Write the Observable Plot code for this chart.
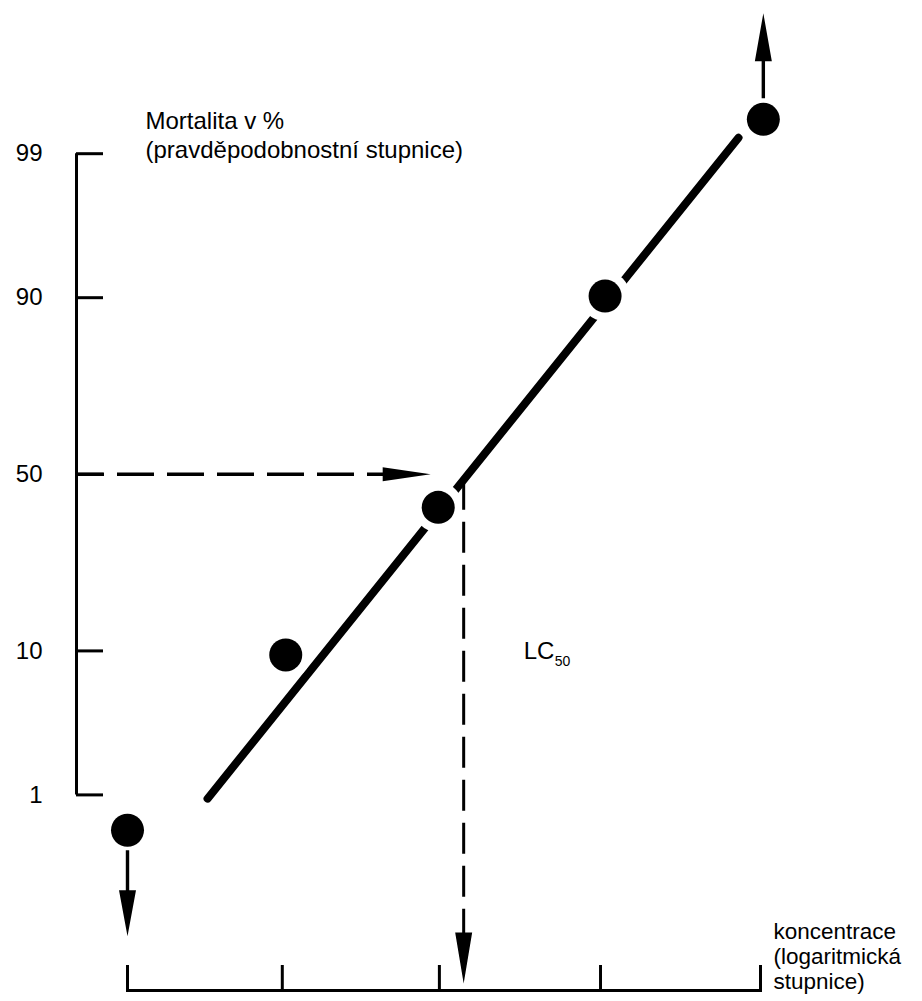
<!DOCTYPE html>
<html>
<head>
<meta charset="utf-8">
<script src="https://cdn.jsdelivr.net/npm/d3@7"></script>
<script src="https://cdn.jsdelivr.net/npm/@observablehq/plot@0.6"></script>
<style>
  html, body { margin: 0; padding: 0; background: #fff; }
  #chart svg { display: block; }
</style>
</head>
<body>
<div id="chart"></div>
<script>
// ---- data ----
const concTicks = [1, 1.97, 3.92, 7.94, 16];     // concentration ticks (log scale, unlabeled)
const yTickPct = [1, 10, 50, 90, 99];            // mortality ticks (probability scale)
const yTickLabels = ["1", "10", "50", "90", "99"];
const pointConc = [1, 2, 3.9, 8.1, 16.2];        // observed points: concentration
const pointPct = [0.49, 9.5, 40.5, 90.2, 99.5];  // observed points: mortality %
const fitConc = [1.42, 14.53];                   // fitted probit line ends
const fitPct = [0.93, 99.27];
const lc50Conc = 4.36;                           // LC50 concentration
const lc50Pct = 50;
const yTitle = "Mortalita v %\n(pravděpodobnostní stupnice)";
const xTitle = "koncentrace\n(logaritmická\nstupnice)";
const lcMain = "LC";
const lcSub = "50";

// probit transform (Abramowitz & Stegun 26.2.23)
function probit(p) {
  const q = p < 0.5 ? p : 1 - p;
  const t = Math.sqrt(-2 * Math.log(q));
  const z = t - (2.515517 + 0.802853 * t + 0.010328 * t * t) /
                (1 + 1.432788 * t + 0.189269 * t * t + 0.001308 * t * t * t);
  return p < 0.5 ? -z : z;
}
const pz = (pct) => probit(pct / 100);

const points = pointConc.map((c, i) => ({c, p: pointPct[i]}));
const fit = fitConc.map((c, i) => ({c, p: fitPct[i]}));

// custom filled shapes for arrowheads
function shape(polys) {
  return {
    draw(ctx) {
      for (const poly of polys) {
        ctx.moveTo(poly[0][0], poly[0][1]);
        for (let k = 1; k < poly.length; ++k) ctx.lineTo(poly[k][0], poly[k][1]);
        ctx.closePath();
      }
    }
  };
}
const headRight = shape([[[0, 0], [-48, -7], [-48, 7]]]);
const headDown = shape([[[0, 0], [-8.5, -51], [8.5, -51]]]);
const arrowUp = shape([
  [[-1.7, -21], [1.7, -21], [1.7, -61], [-1.7, -61]],
  [[0, -106], [-8.5, -58], [8.5, -58]]
]);
const arrowDown = shape([
  [[-1.7, 20], [1.7, 20], [1.7, 63], [-1.7, 63]],
  [[0, 106], [-8.5, 60], [8.5, 60]]
]);

const W = 922, H = 1001, MB = 11;
const AXIS_DX = -51;      // y axis sits left of the first concentration tick
const FONT = "'Liberation Sans', Arial, Helvetica, sans-serif";

const chart = Plot.plot({
  width: W,
  height: H,
  marginLeft: 127,
  marginRight: 162,
  marginTop: 0,
  marginBottom: MB,
  style: {fontFamily: FONT, fontSize: "24px", color: "#000", background: "#fff"},
  x: {type: "log", domain: [concTicks[0], concTicks[concTicks.length - 1]], axis: null},
  y: {type: "linear", domain: [pz(yTickPct[0]), pz(yTickPct[yTickPct.length - 1])], range: [794.4, 153.2], axis: null},
  marks: [
    // fitted line
    Plot.line(fit, {x: "c", y: (d) => pz(d.p), stroke: "#000", strokeWidth: 8, strokeLinecap: "round"}),
    // white halos around points (gaps in the line)
    Plot.dot(points, {x: "c", y: (d) => pz(d.p), r: 25, fill: "#fff", stroke: "none"}),
    // observed points
    Plot.dot(points, {x: "c", y: (d) => pz(d.p), r: 16.5, fill: "#000", stroke: "none"}),
    // arrows at the off-scale points
    Plot.dot(points.slice(0, 1), {x: "c", y: (d) => pz(d.p), r: 5, symbol: arrowDown, fill: "#000", stroke: "none"}),
    Plot.dot(points.slice(-1), {x: "c", y: (d) => pz(d.p), r: 5, symbol: arrowUp, fill: "#000", stroke: "none"}),
    // dashed horizontal arrow at 50 %
    Plot.ruleY([lc50Pct], {y: (d) => pz(d), x1: () => concTicks[0], x2: () => lc50Conc,
      insetLeft: AXIS_DX, insetRight: 48, stroke: "#000", strokeWidth: 3.5,
      strokeDasharray: "37,13", strokeDashoffset: 9}),
    Plot.dot([lc50Pct], {x: () => lc50Conc, y: (d) => pz(d), dx: -33, r: 5, symbol: headRight, fill: "#000", stroke: "none"}),
    // dashed vertical arrow down at LC50
    Plot.ruleX([lc50Conc], {x: (d) => d, y1: () => pz(lc50Pct), y2: null, insetTop: 10, insetBottom: 30,
      stroke: "#000", strokeWidth: 3, strokeDasharray: "31,12", strokeDashoffset: 5}),
    Plot.dot([lc50Conc], {x: (d) => d, frameAnchor: "bottom", dy: -7, r: 5, symbol: headDown, fill: "#000", stroke: "none"}),
    // y axis line and ticks
    Plot.ruleX([concTicks[0]], {x: (d) => d, y1: () => pz(yTickPct[0]), y2: () => pz(yTickPct[yTickPct.length - 1]),
      dx: AXIS_DX, stroke: "#000", strokeWidth: 3}),
    Plot.ruleY(yTickPct, {y: (d) => pz(d), x1: () => concTicks[0], x2: () => concTicks[0],
      insetLeft: AXIS_DX, insetRight: 24, stroke: "#000", strokeWidth: 3}),
    Plot.text(yTickPct, {y: (d) => pz(d), text: (d, i) => yTickLabels[i], frameAnchor: "left",
      textAnchor: "end", dx: -85, fontSize: 24, fill: "#000"}),
    // x axis line and ticks
    Plot.frame({anchor: "bottom", stroke: "#000", strokeWidth: 3}),
    Plot.ruleX(concTicks, {x: (d) => d, insetTop: H - MB - 25, stroke: "#000", strokeWidth: 3}),
    // titles
    Plot.text([yTitle], {text: (d) => d, frameAnchor: "top-left", dx: 18, dy: 109, textAnchor: "start",
      lineAnchor: "top", lineHeight: 1.17, fontSize: 24, fill: "#000"}),
    Plot.text([xTitle], {text: (d) => d, frameAnchor: "bottom-right", dx: 13, dy: -70, textAnchor: "start",
      lineAnchor: "top", lineHeight: 1.13, fontSize: 22.5, fill: "#000"}),
    // LC50 label
    Plot.text([lcMain], {text: (d) => d, x: () => lc50Conc, y: () => pz(yTickPct[1]), dx: 60, textAnchor: "start",
      fontSize: 24, fill: "#000"}),
    Plot.text([lcSub], {text: (d) => d, x: () => lc50Conc, y: () => pz(yTickPct[1]), dx: 91, dy: 11, textAnchor: "start",
      fontSize: 14, fill: "#000"})
  ]
});
document.getElementById("chart").append(chart);
</script>
</body>
</html>
